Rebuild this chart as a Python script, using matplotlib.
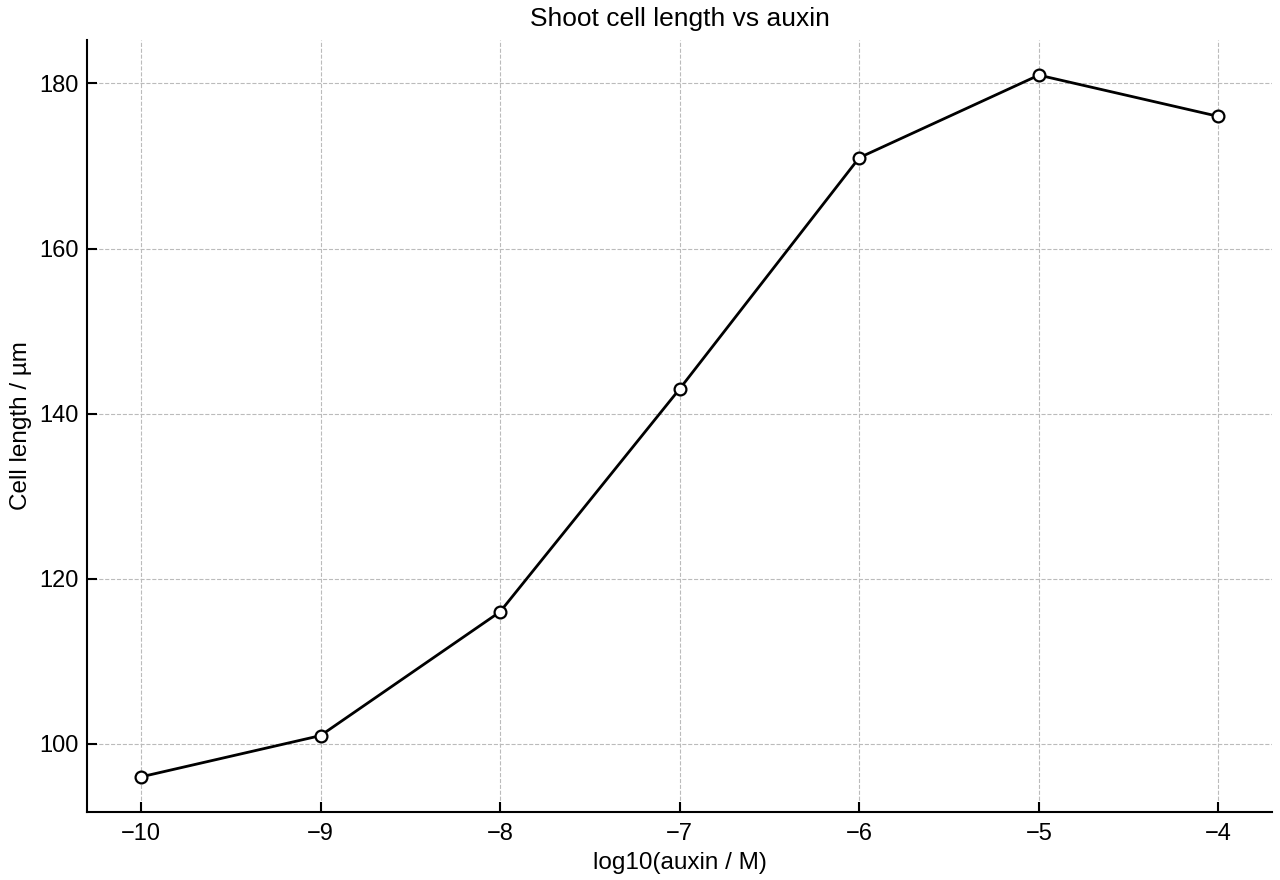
import matplotlib
matplotlib.use("Agg")
import matplotlib.pyplot as plt

log_auxin = [-10, -9, -8, -7, -6, -5, -4]
cell_length = [96, 101, 116, 143, 171, 181, 176]

plt.rcParams['font.family'] = ['Liberation Sans', 'DejaVu Sans']

fig = plt.figure(figsize=(12.8, 8.8), dpi=100)
ax = fig.add_axes([0.068, 0.0773, 0.926, 0.8772])

ax.plot(log_auxin, cell_length, color='black', linewidth=2.0, marker='o',
        markersize=8.5, markerfacecolor='white', markeredgecolor='black',
        markeredgewidth=1.6, zorder=3)

ax.grid(True, linestyle='--', color='#bbbbbb', linewidth=0.8)
ax.set_axisbelow(True)
for s in ['top', 'right']:
    ax.spines[s].set_visible(False)
for s in ['left', 'bottom']:
    ax.spines[s].set_linewidth(1.5)

ax.tick_params(direction='in', length=7, width=1.5, labelsize=17)
ax.tick_params(axis='y', pad=6)
ax.tick_params(axis='x', pad=8)
ax.set_xticks(log_auxin)
ax.set_yticks([100, 120, 140, 160, 180])

ax.set_title('Shoot cell length vs auxin', fontsize=19, pad=10)
ax.set_xlabel('log10(auxin / M)', fontsize=17.5, labelpad=5)
ax.set_ylabel('Cell length / µm', fontsize=17.5, labelpad=5)

fig.savefig('out.png', dpi=100)
